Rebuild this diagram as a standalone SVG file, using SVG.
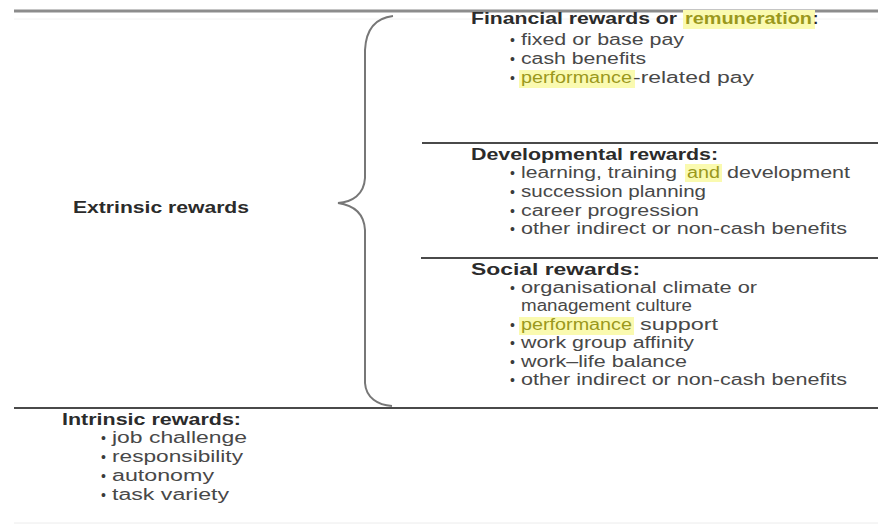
<svg xmlns="http://www.w3.org/2000/svg" width="878" height="529" viewBox="0 0 878 529">
<style>
text{font-family:"Liberation Sans",Arial,sans-serif;font-size:16px;}
.h{font-weight:bold;fill:#2b2b2b;}
.i{fill:#484848;}
.y{fill:#9a981c;}
.b{fill:#3a3a3a;font-size:14px;}
.hl{fill:#fafab0;}
.rule{stroke:#4a4a4a;stroke-width:2;fill:none;}
</style>
<rect width="878" height="529" fill="#ffffff"/>
<g id="connectors">
<line x1="14" y1="11" x2="878" y2="11" stroke="#8c8c8c" stroke-width="3"/>
<line x1="14" y1="19" x2="878" y2="19" stroke="#f2f2f2" stroke-width="1"/>
<line class="rule" x1="422" y1="143" x2="878" y2="143"/>
<line class="rule" x1="421" y1="258" x2="878" y2="258" stroke="#666"/>
<line class="rule" x1="14" y1="408" x2="878" y2="408" stroke-width="2.5"/>
<line x1="14" y1="523" x2="878" y2="523" stroke="#ececec" stroke-width="1"/>
<path d="M 393 16 C 375 18, 366 30, 365 50 L 365 178 C 364 195, 352 202, 338 203 C 352 205, 364 212, 365 230 L 365 383 C 366 398, 378 405, 392 406" fill="none" stroke="#777" stroke-width="2"/>
</g>
<g id="financial">
<rect class="hl" x="683" y="10" width="132" height="19"/>
<text class="h" x="471" y="24" textLength="206" lengthAdjust="spacingAndGlyphs">Financial rewards or</text>
<text class="h y" x="685" y="24" textLength="127" lengthAdjust="spacingAndGlyphs">remuneration</text>
<text class="h" x="813" y="24">:</text>
<text class="b" x="510" y="45">•</text>
<text class="i" x="521" y="45" textLength="163" lengthAdjust="spacingAndGlyphs">fixed or base pay</text>
<text class="b" x="510" y="64">•</text>
<text class="i" x="521" y="64" textLength="125" lengthAdjust="spacingAndGlyphs">cash benefits</text>
<text class="b" x="510" y="83">•</text>
<rect class="hl" x="519" y="70" width="116" height="18"/>
<text class="y" x="521" y="83" textLength="111" lengthAdjust="spacingAndGlyphs">performance</text>
<text class="i" x="633" y="83" textLength="121" lengthAdjust="spacingAndGlyphs">-related pay</text>
</g>
<g id="developmental">
<text class="h" x="471" y="160" textLength="247" lengthAdjust="spacingAndGlyphs">Developmental rewards:</text>
<text class="b" x="510" y="178">•</text>
<text class="i" x="521" y="178" textLength="156" lengthAdjust="spacingAndGlyphs">learning, training</text>
<rect class="hl" x="685" y="164" width="37" height="18"/>
<text class="y" x="687" y="178" textLength="33" lengthAdjust="spacingAndGlyphs">and</text>
<text class="i" x="727" y="178" textLength="123" lengthAdjust="spacingAndGlyphs">development</text>
<text class="b" x="510" y="197">•</text>
<text class="i" x="521" y="197" textLength="185" lengthAdjust="spacingAndGlyphs">succession planning</text>
<text class="b" x="510" y="216">•</text>
<text class="i" x="521" y="216" textLength="178" lengthAdjust="spacingAndGlyphs">career progression</text>
<text class="b" x="510" y="234">•</text>
<text class="i" x="521" y="234" textLength="326" lengthAdjust="spacingAndGlyphs">other indirect or non-cash benefits</text>
</g>
<g id="social">
<text class="h" x="471" y="275" textLength="169" lengthAdjust="spacingAndGlyphs">Social rewards:</text>
<text class="b" x="510" y="293">•</text>
<text class="i" x="521" y="293" textLength="236" lengthAdjust="spacingAndGlyphs">organisational climate or</text>
<text class="i" x="521" y="311" textLength="171" lengthAdjust="spacingAndGlyphs">management culture</text>
<text class="b" x="510" y="330">•</text>
<rect class="hl" x="519" y="317" width="115" height="18"/>
<text class="y" x="521" y="330" textLength="111" lengthAdjust="spacingAndGlyphs">performance</text>
<text class="i" x="640" y="330" textLength="78" lengthAdjust="spacingAndGlyphs">support</text>
<text class="b" x="510" y="348">•</text>
<text class="i" x="521" y="348" textLength="173" lengthAdjust="spacingAndGlyphs">work group affinity</text>
<text class="b" x="510" y="367">•</text>
<text class="i" x="521" y="367" textLength="166" lengthAdjust="spacingAndGlyphs">work–life balance</text>
<text class="b" x="510" y="385">•</text>
<text class="i" x="521" y="385" textLength="326" lengthAdjust="spacingAndGlyphs">other indirect or non-cash benefits</text>
</g>
<g id="extrinsic">
<text class="h" x="73" y="213" textLength="176" lengthAdjust="spacingAndGlyphs">Extrinsic rewards</text>
</g>
<g id="intrinsic">
<text class="h" x="62" y="425" textLength="179" lengthAdjust="spacingAndGlyphs">Intrinsic rewards:</text>
<text class="b" x="101" y="443">•</text>
<text class="i" x="112" y="443" textLength="135" lengthAdjust="spacingAndGlyphs">job challenge</text>
<text class="b" x="101" y="462">•</text>
<text class="i" x="112" y="462" textLength="131" lengthAdjust="spacingAndGlyphs">responsibility</text>
<text class="b" x="101" y="481">•</text>
<text class="i" x="112" y="481" textLength="102" lengthAdjust="spacingAndGlyphs">autonomy</text>
<text class="b" x="101" y="500">•</text>
<text class="i" x="112" y="500" textLength="117" lengthAdjust="spacingAndGlyphs">task variety</text>
</g>
</svg>
